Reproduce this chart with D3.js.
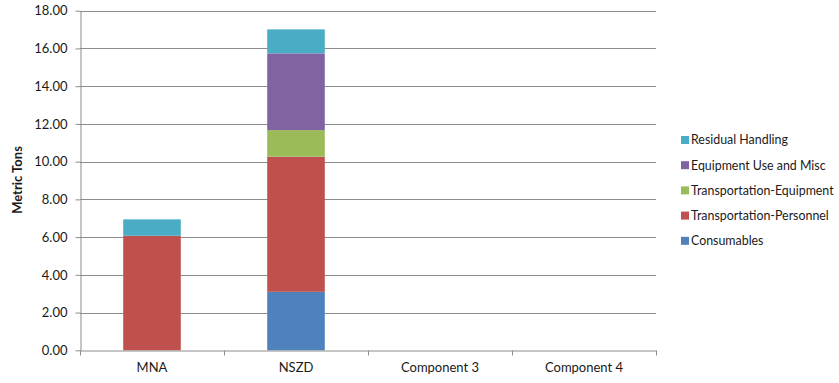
<!DOCTYPE html>
<html>
<head>
<meta charset="utf-8">
<script src="https://cdn.jsdelivr.net/npm/d3@7"></script>
<style>
  html, body { margin: 0; padding: 0; background: #fff; }
  svg { display: block; font-family: Lato, "Open Sans", sans-serif; }
</style>
</head>
<body>
<svg id="chart" width="839" height="383"></svg>
<script>
// Categories along the x axis
const categories = ["MNA", "NSZD", "Component 3", "Component 4"];

// Emission sources (stack order, bottom to top) and their colours
const seriesNames = ["Consumables", "Transportation-Personnel", "Transportation-Equipment", "Equipment Use and Misc", "Residual Handling"];
const seriesColors = ["#4f81bd", "#c0504d", "#9bbb59", "#8064a2", "#4bacc6"];

// Metric tons per category, one array per source
const consumables = [0, 3.10, 0, 0];
const transportationPersonnel = [6.07, 7.16, 0, 0];
const transportationEquipment = [0, 1.41, 0, 0];
const equipmentUseMisc = [0, 4.07, 0, 0];
const residualHandling = [0.87, 1.27, 0, 0];

// Y axis ticks
const yTicks = [0, 2, 4, 6, 8, 10, 12, 14, 16, 18];

const seriesValues = [consumables, transportationPersonnel, transportationEquipment, equipmentUseMisc, residualHandling];

const rows = categories.map((c, i) => {
  const r = { category: c };
  seriesNames.forEach((s, j) => { r[s] = seriesValues[j][i]; });
  return r;
});

const svg = d3.select("#chart");
const plotLeft = 80, plotRight = 656, plotTop = 10.7, plotBottom = 350.3;

const x = d3.scaleBand().domain(categories).range([plotLeft, plotRight]).paddingInner(0.6).paddingOuter(0.3);
const xBand = d3.scaleBand().domain(categories).range([plotLeft, plotRight]);
const y = d3.scaleLinear().domain([0, 18]).range([plotBottom, plotTop]);

const gridColor = "#8c8c8c";
const textColor = "#1a1a1a";

// Horizontal gridlines
svg.append("g").selectAll("line").data(yTicks.filter(d => d > 0)).join("line")
  .attr("x1", plotLeft).attr("x2", plotRight)
  .attr("y1", d => Math.round(y(d)) + 0.5).attr("y2", d => Math.round(y(d)) + 0.5)
  .attr("stroke", gridColor).attr("stroke-width", 1);

// Stacked bars
const stack = d3.stack().keys(seriesNames)(rows);
svg.append("g").selectAll("g").data(stack).join("g")
  .attr("fill", (d, i) => seriesColors[i])
  .selectAll("rect").data(d => d.filter(p => p[1] - p[0] > 0)).join("rect")
  .attr("x", d => x(d.data.category))
  .attr("width", x.bandwidth())
  .attr("y", d => y(d[1]))
  .attr("height", d => y(d[0]) - y(d[1]));

// Y axis
const yAxis = svg.append("g")
  .attr("transform", `translate(${plotLeft + 0.5},0)`)
  .call(d3.axisLeft(y).tickValues(yTicks).tickFormat(d3.format(".2f")).tickSize(5).tickSizeOuter(0));
yAxis.select(".domain").attr("stroke", gridColor);
yAxis.selectAll(".tick line").attr("stroke", gridColor);
yAxis.selectAll(".tick text").attr("fill", textColor).attr("font-size", 13).attr("x", -13)
  .attr("font-family", "Lato, sans-serif");

// X axis
const xAxis = svg.append("g")
  .attr("transform", `translate(0,${Math.round(plotBottom) + 0.5})`)
  .call(d3.axisBottom(xBand).tickSize(0).tickSizeOuter(0));
xAxis.select(".domain").attr("stroke", gridColor);
xAxis.selectAll(".tick text").attr("fill", textColor).attr("font-size", 13).attr("dy", "1.45em")
  .attr("font-family", "Lato, sans-serif");
// Category boundary ticks
xAxis.append("g").selectAll("line")
  .data(categories.map(c => xBand(c)).concat([plotRight]))
  .join("line")
  .attr("x1", d => Math.round(d) + 0.5).attr("x2", d => Math.round(d) + 0.5)
  .attr("y1", 0).attr("y2", 5)
  .attr("stroke", gridColor);

// Y axis title
svg.append("text")
  .attr("transform", `translate(22,180) rotate(-90)`)
  .attr("text-anchor", "middle")
  .attr("font-size", 13).attr("font-weight", "bold").attr("fill", textColor)
  .text("Metric Tons");

// Legend (top entry is the top of the stack)
const legendItems = seriesNames.map((s, i) => ({ name: s, color: seriesColors[i] })).reverse();
const legend = svg.append("g").selectAll("g").data(legendItems).join("g")
  .attr("transform", (d, i) => `translate(681,${140 + i * 25.2})`);
legend.append("rect").attr("x", 0).attr("y", -4).attr("width", 8).attr("height", 8).attr("fill", d => d.color);
legend.append("text").attr("x", 10).attr("dy", "0.35em")
  .attr("font-size", 12.4).attr("fill", textColor)
  .text(d => d.name);
</script>
</body>
</html>
